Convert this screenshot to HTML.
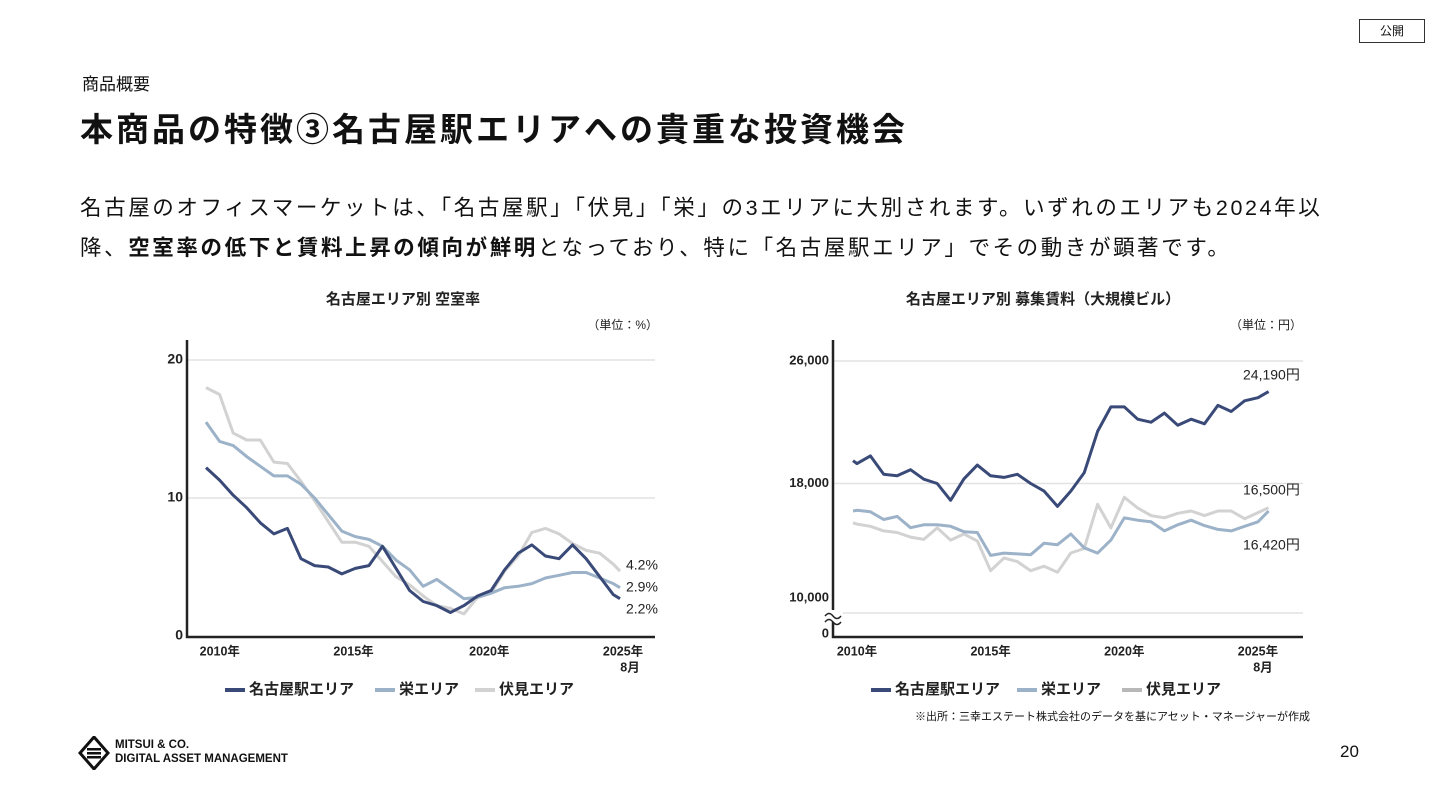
<!DOCTYPE html>
<html lang="ja"><head><meta charset="utf-8">
<style>
body{margin:0;width:1440px;height:810px;background:#fff;position:relative;overflow:hidden;font-family:"Liberation Sans","Noto Sans CJK JP",sans-serif;color:#111}
.abs{position:absolute;white-space:nowrap}
svg text{font-family:"Liberation Sans","Noto Sans CJK JP",sans-serif}
</style></head><body>
<div class="abs" style="left:1359px;top:19px;width:66px;height:24px;border:1px solid #333;box-sizing:border-box;font-size:12px;text-align:center;line-height:22px">公開</div>
<div class="abs" style="left:82px;top:70px;font-size:17px">商品概要</div>
<div class="abs" style="left:80px;top:103px;font-size:33px;font-weight:bold;letter-spacing:3px">本商品の特徴③名古屋駅エリアへの貴重な投資機会</div>
<div class="abs" style="left:80px;top:188px;font-size:21.5px;line-height:40px;letter-spacing:2.6px">名古屋のオフィスマーケットは、「名古屋駅」「伏見」「栄」の3エリアに大別されます。いずれのエリアも2024年以<br>降、<b>空室率の低下と賃料上昇の傾向が鮮明</b>となっており、特に「名古屋駅エリア」でその動きが顕著です。</div>
<svg id="charts" width="1440" height="810" style="position:absolute;left:0;top:0"></svg>
<div class="abs" style="right:130px;top:708px;font-size:11px">※出所：三幸エステート株式会社のデータを基にアセット・マネージャーが作成</div>
<div class="abs" style="left:1340px;top:742px;font-size:17px">20</div>
<div class="abs" style="left:78px;top:736px;">
<svg width="32" height="34" viewBox="0 0 32 34"><path d="M16 1 L30 17 L16 33 L2 17 Z" fill="none" stroke="#111" stroke-width="3"/><rect x="9" y="12" width="14" height="2.5" fill="#111"/><rect x="9" y="16" width="14" height="2.5" fill="#111"/><rect x="9" y="20" width="14" height="2.5" fill="#111"/></svg>
</div>
<div class="abs" style="left:115px;top:738px;font-size:11.5px;line-height:14px;font-weight:bold">MITSUI &amp; CO.<br>DIGITAL ASSET MANAGEMENT</div>
<script>
// ---- vacancy chart data ----
const vacDates=[2009.75,2010.25,2010.75,2011.25,2011.75,2012.25,2012.75,2013.25,2013.75,2014.25,2014.75,2015.25,2015.75,2016.25,2016.75,2017.25,2017.75,2018.25,2018.75,2019.25,2019.75,2020.25,2020.75,2021.25,2021.75,2022.25,2022.75,2023.25,2023.75,2024.25,2024.75,2025.0];
const vacMeieki=[12.2,11.3,10.2,9.3,8.2,7.4,7.8,5.6,5.1,5.0,4.5,4.9,5.1,6.5,4.9,3.3,2.5,2.2,1.7,2.2,2.9,3.3,4.8,6.0,6.6,5.8,5.6,6.6,5.6,4.3,3.0,2.7];
const vacSakae=[15.5,14.1,13.8,13.0,12.3,11.6,11.6,11.0,10.0,8.8,7.6,7.2,7.0,6.5,5.5,4.8,3.6,4.1,3.4,2.7,2.8,3.1,3.5,3.6,3.8,4.2,4.4,4.6,4.6,4.2,3.8,3.5];
const vacFushimi=[18.0,17.5,14.7,14.2,14.2,12.6,12.5,11.2,9.8,8.3,6.8,6.8,6.5,5.4,4.3,3.7,2.9,2.2,2.0,1.6,2.8,3.1,4.7,5.8,7.5,7.8,7.4,6.7,6.2,6.0,5.2,4.7];
const vacTicks=[0,10,20];
const vacXTicks=[2010,2015,2020,2025];
const vacEndLabels=["4.2%","2.9%","2.2%"];
// ---- rent chart data ----
const rentDates=[2009.85,2010.0,2010.5,2011.0,2011.5,2012.0,2012.5,2013.0,2013.5,2014.0,2014.5,2015.0,2015.5,2016.0,2016.5,2017.0,2017.5,2018.0,2018.5,2019.0,2019.5,2020.0,2020.5,2021.0,2021.5,2022.0,2022.5,2023.0,2023.5,2024.0,2024.5,2025.0,2025.4];
const rentMeieki=[19490,19300,19800,18600,18500,18900,18280,18000,16900,18300,19200,18500,18400,18600,18000,17500,16500,17500,18700,21400,23000,23000,22200,22000,22600,21800,22200,21900,23100,22700,23400,23600,24000];
const rentSakae=[16200,16250,16150,15650,15850,15110,15300,15300,15200,14850,14800,13300,13450,13400,13350,14100,14000,14700,13800,13450,14300,15750,15600,15500,14900,15300,15600,15250,15000,14900,15200,15500,16200];
const rentFushimi=[15430,15350,15200,14900,14800,14500,14350,15100,14300,14700,14250,12300,13130,12900,12300,12600,12200,13460,13750,16640,15100,17100,16400,15900,15760,16050,16200,15900,16200,16200,15700,16100,16420];
const rentTicks=[18000,26000];
const rentXTicks=[2010,2015,2020,2025];
const rentEndLabels=["24,190円","16,500円","16,420円"];

const NS="http://www.w3.org/2000/svg";
const svg=document.getElementById('charts');
function mk(tag,attrs,parent){const e=document.createElementNS(NS,tag);for(const k in attrs)e.setAttribute(k,attrs[k]);(parent||svg).appendChild(e);return e;}
function txt(s,x,y,attrs){const t=mk('text',Object.assign({x:x,y:y,'font-size':13,fill:'#222','dominant-baseline':'middle'},attrs||{}));t.textContent=s;return t;}
const C={m:'#3a4a78',s:'#9cb2c8',f:'#d2d2d2'};

const vx=t=>206+(t-2009.75)*27.15;
const vy=v=>636-v*13.8;
const g1=mk('g',{});


let t=txt('名古屋エリア別 空室率',403,300,{'font-size':15,'font-weight':'bold','text-anchor':'middle'});g1.appendChild(t);

t=txt('（単位：%）',658,326,{'font-size':12,'text-anchor':'end'});g1.appendChild(t);

vacTicks.forEach(v=>{
  if(v>0){const l=mk('line',{x1:187,x2:655,y1:vy(v),y2:vy(v),stroke:'#e2e2e2','stroke-width':1.5},g1);
  }
  const tl=txt(String(v),183,vy(v),{'text-anchor':'end','font-weight':'bold','font-size':14});g1.appendChild(tl);
  
});
vacXTicks.forEach(y=>{const tl=txt(y+'年',vx(y)+(y===2010?7:(y===2025?3:5)),652,{'text-anchor':'middle','font-weight':'bold','font-size':12.5});g1.appendChild(tl);
});
t=txt('8月',vx(2025)+10,668,{'text-anchor':'middle','font-weight':'bold','font-size':12.5});g1.appendChild(t);

function series(g,dates,vals,xs,ys,col,name){
  const d=dates.map((dt,i)=>(i?'L':'M')+xs(dt).toFixed(1)+' '+ys(vals[i]).toFixed(1)).join(' ');
  const p=mk('path',{d:d,fill:'none',stroke:col,'stroke-width':3,'stroke-linejoin':'round'},g);
  
  
}
series(g1,vacDates,vacFushimi,vx,vy,C.f,'fushimi-vacancy-line');
series(g1,vacDates,vacSakae,vx,vy,C.s,'sakae-vacancy-line');
series(g1,vacDates,vacMeieki,vx,vy,C.m,'meieki-vacancy-line');
let ax=mk('path',{d:'M187 340 L187 637 L655 637',fill:'none',stroke:'#222','stroke-width':2.5},g1);

vacEndLabels.forEach((s,i)=>{const tl=txt(s,626,566+i*22,{'font-size':14});g1.appendChild(tl);
});

const rx=t=>857+(t-2010)*26.73;
const ry=v=>361+(26000-v)*0.01531;
const g2=mk('g',{});


t=txt('名古屋エリア別 募集賃料（大規模ビル）',1043,300,{'font-size':15,'font-weight':'bold','text-anchor':'middle'});g2.appendChild(t);

t=txt('（単位：円）',1302,326,{'font-size':12,'text-anchor':'end'});g2.appendChild(t);

rentTicks.forEach(v=>{const l=mk('line',{x1:833,x2:1303,y1:ry(v),y2:ry(v),stroke:'#e2e2e2','stroke-width':1.5},g2);

const tl=txt(v.toLocaleString('en-US'),829,ry(v),{'text-anchor':'end','font-weight':'bold'});g2.appendChild(tl);
});
let l2=mk('line',{x1:833,x2:1303,y1:613,y2:613,stroke:'#e2e2e2','stroke-width':1.5},g2);

t=txt('10,000',829,598,{'text-anchor':'end','font-weight':'bold'});g2.appendChild(t);

t=txt('0',829,634,{'text-anchor':'end','font-weight':'bold'});g2.appendChild(t);

rentXTicks.forEach(y=>{const tl=txt(y+'年',rx(y),652,{'text-anchor':'middle','font-weight':'bold','font-size':12.5});g2.appendChild(tl);
});
t=txt('8月',rx(2025)+5,668,{'text-anchor':'middle','font-weight':'bold','font-size':12.5});g2.appendChild(t);

series(g2,rentDates,rentFushimi,rx,ry,C.f,'fushimi-rent-line');
series(g2,rentDates,rentSakae,rx,ry,C.s,'sakae-rent-line');
series(g2,rentDates,rentMeieki,rx,ry,C.m,'meieki-rent-line');
ax=mk('path',{d:'M833 340 L833 637 L1303 637',fill:'none',stroke:'#222','stroke-width':2.5},g2);

let br=mk('g',{},g2);

mk('rect',{x:825,y:610,width:18,height:12,fill:'#fff'},br);
mk('path',{d:'M825 616 q4 -5 8 0 t8 0 M825 622 q4 -5 8 0 t8 0',fill:'none',stroke:'#222','stroke-width':1.5},br);
[[376],[491],[546]].forEach((p,i)=>{const tl=txt(rentEndLabels[i],1243,p[0],{'font-size':14});g2.appendChild(tl);
});

function legend(x0,offs,prefix){
  const names=['名古屋駅エリア','栄エリア','伏見エリア'];
  const cols=[C.m,C.s,prefix==='rent'?'#b8b8b8':C.f];
  names.forEach((n,i)=>{
    const g=mk('g',{});
    
    
    const x=x0+offs[i];
    mk('line',{x1:x,x2:x+20,y1:690,y2:690,stroke:cols[i],'stroke-width':4},g);
    const tl=txt(n,x+24,690,{'font-size':15,'font-weight':'bold'});g.appendChild(tl);
  });
}
legend(225,[0,150,250],'vac');
legend(871,[0,146,251],'rent');
</script>
</body></html>
